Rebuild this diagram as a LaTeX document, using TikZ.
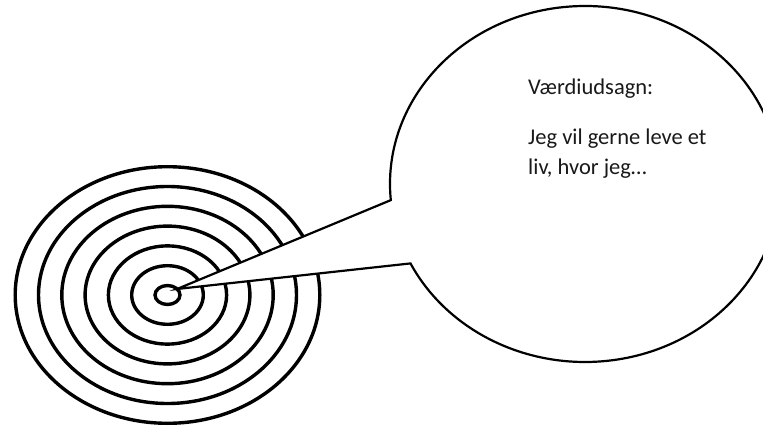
\documentclass[tikz,border=0pt]{standalone}
\usepackage{fontspec}
\setmainfont{Carlito}
\usetikzlibrary{calc}
\begin{document}
\begin{tikzpicture}[x=1pt,y=1pt,
  ring/.style={draw=black,line width=3.4pt},
  bubble/.style={draw=black,line width=2.2pt,fill=white,line join=miter},
  bubtext/.style={anchor=base west,inner sep=0pt,font=\fontsize{22.5}{27}\selectfont,text=black!90}]
\useasboundingbox (0,0) rectangle (763,429);
\clip (0,0) rectangle (763,429);
% target
\coordinate (tc) at (167.5,134);
\foreach \k in {0,...,6}{
  \draw[ring] (tc) ellipse [x radius={12.5+23.3*\k}, y radius={9.5+19.8*\k}];
}
% speech bubble
\coordinate (bc) at (585,245);
\coordinate (tip) at (177,140);
\coordinate (ju) at ($(bc)+(185.2:195 and 178)$);
\coordinate (jl) at ($(bc)+(206.5:195 and 178)$);
\draw[bubble] (ju) arc[start angle=185.2, end angle=-153.5, x radius=195pt, y radius=178pt]
  -- (tip) -- cycle;
\node[bubtext] (t1) at (528,334) {Værdiudsagn:};
\node[bubtext] (t2) at (528,284) {Jeg vil gerne leve et};
\node[bubtext] (t3) at (528,254) {liv, hvor jeg…};
\end{tikzpicture}
\end{document}
